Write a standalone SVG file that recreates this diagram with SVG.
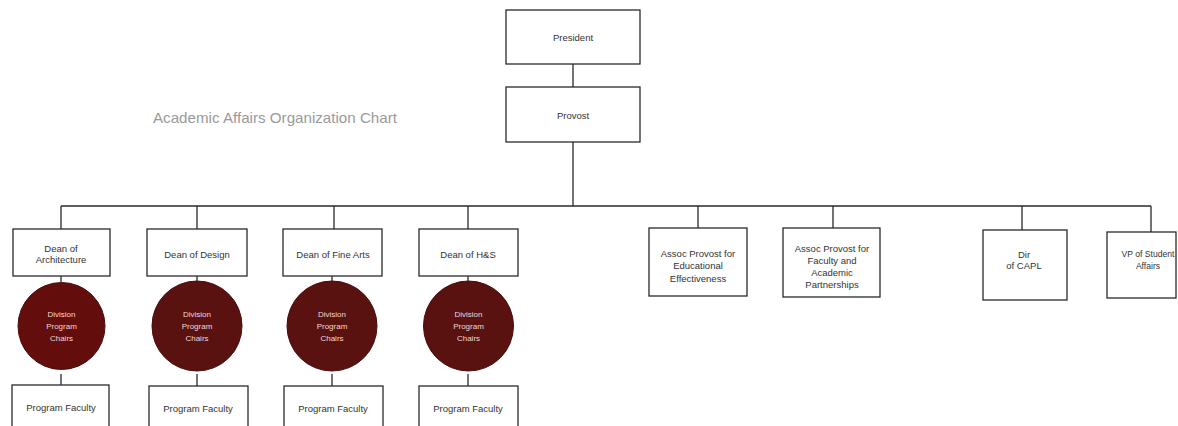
<svg xmlns="http://www.w3.org/2000/svg" width="1178" height="426" viewBox="0 0 1178 426">
<style>
.box{fill:#fff;stroke:#2a2a2a;stroke-width:1.3}
.lbl{font-family:"Liberation Sans",Arial,sans-serif;font-size:9.5px;fill:#333;text-anchor:middle;dominant-baseline:central}
.circ{fill:#5a1210;stroke:#4a0c0c;stroke-width:1}
.clbl{font-family:"Liberation Sans",Arial,sans-serif;font-size:8px;fill:#f0d8d8;text-anchor:middle;dominant-baseline:central}
.conn{stroke:#2a2a2a;stroke-width:1.3;fill:none}
.title{font-family:"Liberation Sans",Arial,sans-serif;font-size:15px;fill:#9a9a9a}
</style>
<rect width="1178" height="426" fill="#fff"/>
<text class="title" x="153" y="123" textLength="244" lengthAdjust="spacingAndGlyphs">Academic Affairs Organization Chart</text>
<g id="connectors">
<path class="conn" d="M573 64V87M573 142V206M61 206H1151"/>
<path class="conn" d="M61 206V229M197 206V229M334 206V229M468 206V229M698 206V228M833 206V228M1022 206V230M1151 206V232"/>
<path class="conn" d="M61 276V282M197 276V281M332 276V281M468 276V281"/>
<path class="conn" d="M61 374V385M197 374V386M332 374V386M468 374V386"/>
</g>
<g id="president"><rect class="box" x="506" y="10" width="134" height="54"/><text class="lbl" x="573" y="37">President</text></g>
<g id="provost"><rect class="box" x="506" y="87" width="134" height="55"/><text class="lbl" x="573" y="115">Provost</text></g>
<g id="dean-arch"><rect class="box" x="13" y="229" width="97" height="47"/><text class="lbl" x="61" y="248">Dean of</text><text class="lbl" x="61" y="259.5">Architecture</text></g>
<g id="dean-design"><rect class="box" x="147" y="229" width="100" height="47"/><text class="lbl" x="197" y="254">Dean of Design</text></g>
<g id="dean-finearts"><rect class="box" x="283" y="229" width="99" height="47"/><text class="lbl" x="333" y="254">Dean of Fine Arts</text></g>
<g id="dean-hs"><rect class="box" x="419" y="229" width="99" height="47"/><text class="lbl" x="468" y="254">Dean of H&amp;S</text></g>
<g id="chairs-arch"><circle class="circ" cx="61.5" cy="326" r="43.5" style="fill:#640d0d"/><text class="clbl" x="61.5" y="314">Division</text><text class="clbl" x="61.5" y="326">Program</text><text class="clbl" x="61.5" y="338">Chairs</text></g>
<g id="chairs-design"><circle class="circ" cx="197" cy="326" r="45"/><text class="clbl" x="197" y="314">Division</text><text class="clbl" x="197" y="326">Program</text><text class="clbl" x="197" y="338">Chairs</text></g>
<g id="chairs-finearts"><circle class="circ" cx="332" cy="326" r="45"/><text class="clbl" x="332" y="314">Division</text><text class="clbl" x="332" y="326">Program</text><text class="clbl" x="332" y="338">Chairs</text></g>
<g id="chairs-hs"><circle class="circ" cx="468.5" cy="326" r="45"/><text class="clbl" x="468.5" y="314">Division</text><text class="clbl" x="468.5" y="326">Program</text><text class="clbl" x="468.5" y="338">Chairs</text></g>
<g id="faculty-arch"><rect class="box" x="12" y="385" width="97" height="46"/><text class="lbl" x="61" y="407">Program Faculty</text></g>
<g id="faculty-design"><rect class="box" x="149" y="386" width="99" height="46"/><text class="lbl" x="198" y="408">Program Faculty</text></g>
<g id="faculty-finearts"><rect class="box" x="284" y="386" width="99" height="46"/><text class="lbl" x="333" y="408">Program Faculty</text></g>
<g id="faculty-hs"><rect class="box" x="419" y="386" width="99" height="46"/><text class="lbl" x="468" y="408">Program Faculty</text></g>
<g id="assoc-ee"><rect class="box" x="649" y="228" width="98" height="68"/><text class="lbl" x="698" y="253">Assoc Provost for</text><text class="lbl" x="698" y="265.5">Educational</text><text class="lbl" x="698" y="278">Effectiveness</text></g>
<g id="assoc-fap"><rect class="box" x="783" y="228" width="97" height="69"/><text class="lbl" x="832" y="248">Assoc Provost for</text><text class="lbl" x="832" y="260">Faculty and</text><text class="lbl" x="832" y="272">Academic</text><text class="lbl" x="832" y="284">Partnerships</text></g>
<g id="dir-capl"><rect class="box" x="983" y="230" width="84" height="70"/><text class="lbl" x="1024" y="254">Dir</text><text class="lbl" x="1024" y="265.5">of CAPL</text></g>
<g id="vp-student"><rect class="box" x="1107" y="232" width="69" height="66"/><text class="lbl" x="1148" y="254" style="font-size:8.6px">VP of Student</text><text class="lbl" x="1148" y="265.5" style="font-size:8.6px">Affairs</text></g>
</svg>
